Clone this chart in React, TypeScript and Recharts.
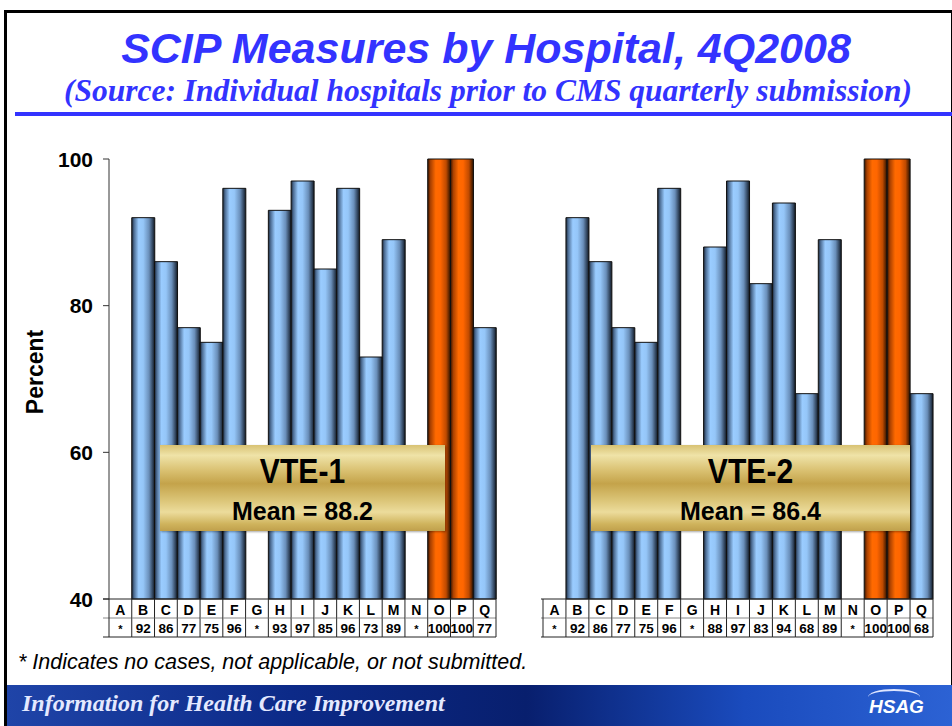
import React from 'react'
import { BarChart, Bar, XAxis, YAxis, Cell } from 'recharts'

const hospitals = ['A', 'B', 'C', 'D', 'E', 'F', 'G', 'H', 'I', 'J', 'K', 'L', 'M', 'N', 'O', 'P', 'Q']
const vte1Values = [null, 92, 86, 77, 75, 96, null, 93, 97, 85, 96, 73, 89, null, 100, 100, 77]
const vte2Values = [null, 92, 86, 77, 75, 96, null, 88, 97, 83, 94, 68, 89, null, 100, 100, 68]
const yTicks = [40, 60, 80, 100]
const means = [
  { name: 'VTE-1', mean: '88.2' },
  { name: 'VTE-2', mean: '86.4' }
]

const PLOT_TOP = 159
const PLOT_BOTTOM = 599
const ROW_H = 19
const CHART_H = 660

const sans = '"Liberation Sans", Arial, sans-serif'

const toRows = (values: (number | null)[]) =>
  hospitals.map((h, i) => ({ hospital: h, value: values[i] }))

const TableTick = (props: any) => {
  const { x, index, payload, band, values, first } = props
  const left = x - band / 2
  const right = x + band / 2
  const v = values[index]
  const y1 = PLOT_BOTTOM
  const y2 = PLOT_BOTTOM + ROW_H
  const y3 = PLOT_BOTTOM + ROW_H * 2
  const ext = index === 0 ? first : 0
  return (
    <g>
      <line x1={left - ext} x2={right} y1={y1} y2={y1} stroke="#222" strokeWidth={1} />
      <line x1={left - ext} x2={right} y1={y2} y2={y2} stroke="#888" strokeWidth={1} />
      <line x1={left - ext} x2={right} y1={y3} y2={y3} stroke="#222" strokeWidth={1} />
      {index === 0 && <line x1={left} x2={left} y1={y1} y2={y3} stroke="#222" strokeWidth={1} />}
      <line x1={right} x2={right} y1={y1} y2={y3} stroke="#222" strokeWidth={1} />
      <text x={x} y={y1 + ROW_H / 2 + 1} textAnchor="middle" dominantBaseline="central"
        fontFamily={sans} fontWeight="bold" fontSize={14} fill="#000">
        {payload.value}
      </text>
      <text x={x} y={y2 + ROW_H / 2 + 1} textAnchor="middle" dominantBaseline="central"
        fontFamily={sans} fontWeight="bold" fontSize={v === null ? 11 : 13.5} fill="#000">
        {v === null ? '*' : v}
      </text>
    </g>
  )
}

const YTick = (props: any) => {
  const { x, y, payload } = props
  return (
    <text x={x} y={y} textAnchor="end" dominantBaseline="central"
      fontFamily={sans} fontWeight="bold" fontSize={21} fill="#000">
      {payload.value}
    </text>
  )
}

interface ChartProps {
  id: string
  values: (number | null)[]
  width: number
  marginLeft: number
  marginRight: number
  showAxis: boolean
}

const MeasureChart: React.FC<ChartProps> = ({ id, values, width, marginLeft, marginRight, showAxis }) => {
  const axisW = showAxis ? 109 : 0
  const band = (width - marginLeft - marginRight - axisW) / hospitals.length
  return (
    <BarChart
      width={width}
      height={CHART_H}
      data={toRows(values)}
      margin={{ top: PLOT_TOP, right: marginRight, bottom: 0, left: marginLeft }}
      barCategoryGap={0}
      barGap={0}
    >
      <defs>
        <linearGradient id={`blue-${id}`} x1="0" y1="0" x2="1" y2="0">
          <stop offset="0%" stopColor="#1b2738" />
          <stop offset="10%" stopColor="#4d6d94" />
          <stop offset="30%" stopColor="#9accff" />
          <stop offset="50%" stopColor="#95c6f8" />
          <stop offset="75%" stopColor="#6a8fba" />
          <stop offset="92%" stopColor="#2d3f56" />
          <stop offset="100%" stopColor="#111820" />
        </linearGradient>
        <linearGradient id={`orange-${id}`} x1="0" y1="0" x2="1" y2="0">
          <stop offset="0%" stopColor="#301200" />
          <stop offset="12%" stopColor="#a84000" />
          <stop offset="35%" stopColor="#ff6a00" />
          <stop offset="55%" stopColor="#ff6600" />
          <stop offset="80%" stopColor="#bf4a00" />
          <stop offset="100%" stopColor="#261000" />
        </linearGradient>
      </defs>
      <XAxis
        dataKey="hospital"
        interval={0}
        height={CHART_H - PLOT_BOTTOM}
        axisLine={false}
        tickLine={false}
        tick={(p: any) => (
          <TableTick {...p} band={band} values={values} first={showAxis ? 6 : 2} />
        )}
      />
      <YAxis
        hide={!showAxis}
        width={axisW}
        type="number"
        domain={[40, 100]}
        ticks={yTicks}
        interval={0}
        tickSize={6}
        tickMargin={10}
        axisLine={{ stroke: '#333' }}
        tickLine={{ stroke: '#333' }}
        tick={<YTick />}
        label={{
          content: () => (
            <text x={35} y={372} transform="rotate(-90 35 372)" textAnchor="middle"
              dominantBaseline="central" fontFamily={sans} fontWeight="bold" fontSize={23} fill="#000">
              Percent
            </text>
          )
        }}
      />
      <Bar dataKey="value" isAnimationActive={false} stroke="#111" strokeWidth={1}>
        {values.map((v, i) => (
          <Cell key={i} fill={v === 100 ? `url(#orange-${id})` : `url(#blue-${id})`} />
        ))}
      </Bar>
    </BarChart>
  )
}

const MeanBox: React.FC<{ left: number; width: number; name: string; mean: string }> = ({ left, width, name, mean }) => (
  <div
    style={{
      position: 'absolute',
      left,
      top: 445,
      width,
      height: 86,
      background:
        'linear-gradient(180deg, #d8c273 0%, #efe3a8 12%, #d9c070 30%, #c4a34a 45%, #dcc679 65%, #ecdc9c 78%, #cfb35c 92%, #c0a04c 100%)',
      boxShadow: '1px 1px 2px rgba(0,0,0,0.35)',
      fontFamily: sans,
      fontWeight: 'bold',
      color: '#000',
      textAlign: 'center',
      zIndex: 2
    }}
  >
    <div style={{ position: 'absolute', left: 0, right: 0, top: 6, fontSize: 35, lineHeight: '40px', transform: 'scaleX(0.86)' }}>
      {name}
    </div>
    <div style={{ position: 'absolute', left: 0, right: 0, top: 52, fontSize: 25, lineHeight: '28px' }}>
      Mean = {mean}
    </div>
  </div>
)

export default function App() {
  return (
    <div style={{ position: 'absolute', left: 0, top: 0, width: 952, height: 726, background: '#fff', overflow: 'hidden' }}>
      <div
        style={{
          position: 'absolute',
          left: 4,
          top: 10,
          width: 944,
          height: 720,
          borderTop: '3px solid #000',
          borderLeft: '3px solid #000',
          borderRight: '2px solid #000'
        }}
      />
      <div
        style={{
          position: 'absolute',
          left: 10,
          width: 952,
          top: 23,
          textAlign: 'center',
          fontFamily: sans,
          fontWeight: 'bold',
          fontStyle: 'italic',
          fontSize: 43,
          lineHeight: '50px',
          color: '#3333ff'
        }}
      >
        SCIP Measures by Hospital, 4Q2008
      </div>
      <div
        style={{
          position: 'absolute',
          left: 12,
          width: 952,
          top: 73,
          textAlign: 'center',
          fontFamily: '"Liberation Serif", "Times New Roman", serif',
          fontWeight: 'bold',
          fontStyle: 'italic',
          fontSize: 31.5,
          lineHeight: '36px',
          color: '#3333ff'
        }}
      >
        (Source: Individual hospitals prior to CMS quarterly submission)
      </div>
      <div style={{ position: 'absolute', left: 15, top: 112, width: 937, height: 4, background: '#3333ff' }} />

      <div style={{ position: 'absolute', left: 0, top: 0 }}>
        <MeasureChart id="vte1" values={vte1Values} width={520} marginLeft={0} marginRight={24} showAxis />
      </div>
      <div style={{ position: 'absolute', left: 520, top: 0 }}>
        <MeasureChart id="vte2" values={vte2Values} width={432} marginLeft={23} marginRight={19} showAxis={false} />
      </div>

      <MeanBox left={160} width={285} name={means[0].name} mean={means[0].mean} />
      <MeanBox left={591} width={319} name={means[1].name} mean={means[1].mean} />

      <div
        style={{
          position: 'absolute',
          left: 18,
          top: 650,
          fontFamily: sans,
          fontStyle: 'italic',
          fontSize: 21.5,
          color: '#000'
        }}
      >
        * Indicates no cases, not applicable, or not submitted.
      </div>

      <div
        style={{
          position: 'absolute',
          left: 7,
          top: 685,
          width: 945,
          height: 41,
          background: 'linear-gradient(90deg, #1f44a8 0%, #0c2a88 30%, #081f6e 55%, #1a4bbd 78%, #2c62d4 100%)'
        }}
      >
        <div
          style={{
            position: 'absolute',
            left: 15,
            top: 5,
            fontFamily: '"Liberation Serif", "Times New Roman", serif',
            fontStyle: 'italic',
            fontWeight: 'bold',
            fontSize: 24,
            color: '#e4e9ff'
          }}
        >
          Information for Health Care Improvement
        </div>
        <div
          style={{
            position: 'absolute',
            left: 861,
            top: 4,
            width: 52,
            height: 14,
            borderTop: '2px solid #dfe6ff',
            borderRadius: '50% 50% 0 0'
          }}
        />
        <div
          style={{
            position: 'absolute',
            left: 862,
            top: 11,
            fontFamily: sans,
            fontStyle: 'italic',
            fontWeight: 'bold',
            fontSize: 19,
            color: '#fff'
          }}
        >
          HSAG
        </div>
      </div>
    </div>
  )
}
